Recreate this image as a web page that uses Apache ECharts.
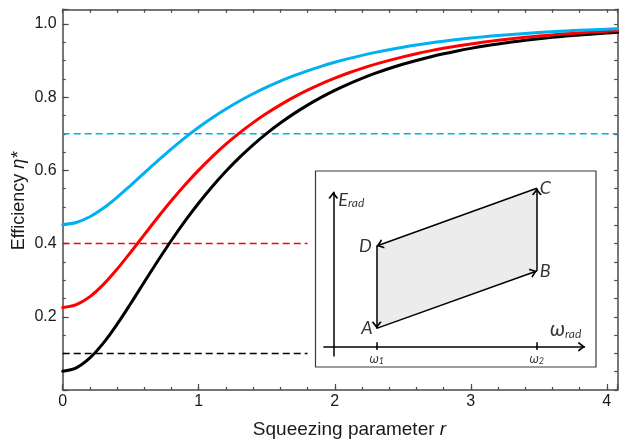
<!DOCTYPE html>
<html><head><meta charset="utf-8">
<script src="https://cdn.jsdelivr.net/npm/echarts@6/dist/echarts.min.js"></script>
<style>html,body{margin:0;padding:0;background:#fff}#c{width:621px;height:439px}</style>
</head><body><div id="c"></div>
<script>
// ---- data ----
const rValues = [0,0.1,0.2,0.3,0.4,0.5,0.6,0.7,0.8,0.9,1.0,1.1,1.2,1.3,1.4,1.5,1.6,1.7,1.8,1.9,2.0,
                 2.1,2.2,2.3,2.4,2.5,2.6,2.7,2.8,2.9,3.0,3.1,3.2,3.3,3.4,3.5,3.6,3.7,3.8,3.9,4.0,4.08];
const blackEta = [0.0513,0.0607,0.0876,0.1287,0.1797,0.2363,0.2950,0.3531,0.4091,0.4618,0.5109,0.5561,0.5976,0.6354,0.6698,0.7010,0.7293,0.7550,0.7783,0.7994,0.8185,
                  0.8357,0.8513,0.8655,0.8783,0.8899,0.9003,0.9098,0.9184,0.9262,0.9332,0.9396,0.9453,0.9505,0.9552,0.9595,0.9633,0.9668,0.9700,0.9728,0.9754,0.9773];
const redEta   = [0.2254,0.2331,0.2550,0.2886,0.3302,0.3764,0.4243,0.4718,0.5175,0.5606,0.6006,0.6376,0.6714,0.7023,0.7304,0.7559,0.7790,0.8000,0.8190,0.8362,0.8518,
                  0.8659,0.8786,0.8902,0.9006,0.9101,0.9186,0.9264,0.9334,0.9397,0.9455,0.9507,0.9553,0.9596,0.9634,0.9669,0.9701,0.9729,0.9755,0.9778,0.9799,0.9815];
const blueEta  = [0.4523,0.4577,0.4732,0.4970,0.5264,0.5591,0.5930,0.6265,0.6588,0.6893,0.7176,0.7437,0.7677,0.7895,0.8093,0.8274,0.8437,0.8586,0.8720,0.8842,0.8952,
                  0.9052,0.9142,0.9223,0.9297,0.9364,0.9425,0.9480,0.9529,0.9574,0.9614,0.9651,0.9684,0.9714,0.9741,0.9766,0.9788,0.9808,0.9827,0.9843,0.9858,0.9869];
const carnotLevels = [0.7, 0.4, 0.1];
const carnotEnds = [4.08, 1.8, 1.8];
const xTickLabels = ['0','1','2','3','4'];
const yTickLabels = ['0.2','0.4','0.6','0.8','1.0'];
// inset cycle diagram (inset units 0..1)
const cycleNames = ['A','B','C','D'];
const cycleU = [0.218,0.789,0.789,0.218];
const cycleV = [0.197,0.490,0.912,0.617];
const insetOmegaU = [0.218,0.789];

// ---- styling ----
const X_MAX = 4.08, Y_MAX = 1.04;
const AX = '#4a4a4a';
const FONT = 'Liberation Sans';
const IFONT = 'Lato';
const BLUE = '#00B0F0', RED = '#FF0000', BLACK = '#000000';
const arrowPath = 'path://M5,0L5.001,0L5,0ZM5,9L10,17.2L8.3,18L5,12.4L1.7,18L0,17.2Z';

function xFmt(v){ const k=Math.round(v); return Math.abs(v-k)<1e-6 && xTickLabels[k]!==undefined ? xTickLabels[k] : ''; }
function yFmt(v){ const k=Math.round(v/0.2); return (Math.abs(v-k*0.2)<1e-6 && k>=1 && k<=yTickLabels.length) ? yTickLabels[k-1] : ''; }

const baseX = {gridIndex:0,type:'value',min:0,max:X_MAX,splitLine:{show:false}};
const baseY = {gridIndex:0,type:'value',min:0,max:Y_MAX,splitLine:{show:false}};

const xAxis = [
  Object.assign({}, baseX, {position:'bottom', interval:1,
    axisLine:{show:true,onZero:false,lineStyle:{color:AX,width:1.5}},
    axisTick:{show:true,inside:true,length:6,lineStyle:{color:AX,width:1.2}},
    axisLabel:{show:true,margin:4,fontSize:16,color:'#1a1a1a',fontFamily:FONT,formatter:xFmt}}),
  Object.assign({}, baseX, {position:'bottom', interval:0.2,
    axisLine:{show:false,onZero:false},
    axisTick:{show:true,inside:true,length:3,lineStyle:{color:AX,width:1.2}},
    axisLabel:{show:false}}),
  Object.assign({}, baseX, {position:'top', interval:0.2,
    axisLine:{show:true,onZero:false,lineStyle:{color:AX,width:1.5}},
    axisTick:{show:true,inside:true,length:3.5,lineStyle:{color:AX,width:1.2}},
    axisLabel:{show:false}}),
  {gridIndex:1,type:'value',min:0,max:1,show:false}
];
const yAxis = [
  Object.assign({}, baseY, {position:'left', interval:0.2,
    axisLine:{show:true,onZero:false,lineStyle:{color:AX,width:1.5}},
    axisTick:{show:true,inside:true,length:6,lineStyle:{color:AX,width:1.2}},
    axisLabel:{show:true,margin:6,fontSize:16,color:'#1a1a1a',fontFamily:FONT,formatter:yFmt}}),
  Object.assign({}, baseY, {position:'left', interval:0.05,
    axisLine:{show:false,onZero:false},
    axisTick:{show:true,inside:true,length:3,lineStyle:{color:AX,width:1.2}},
    axisLabel:{show:false}}),
  Object.assign({}, baseY, {position:'right', interval:0.05,
    axisLine:{show:true,onZero:false,lineStyle:{color:AX,width:1.5}},
    axisTick:{show:true,inside:true,length:3.5,lineStyle:{color:AX,width:1.2}},
    axisLabel:{show:false}}),
  {gridIndex:1,type:'value',min:0,max:1,show:false}
];

const series = [];
const dashColors = [BLUE, RED, BLACK];
carnotLevels.forEach((lvl,i)=>{
  series.push({type:'line',xAxisIndex:0,yAxisIndex:0,data:[[0,lvl],[carnotEnds[i],lvl]],
    showSymbol:false,silent:true,lineStyle:{color:dashColors[i],width:1.5,type:[7,4]},z:2});
});
[[blackEta,BLACK],[redEta,RED],[blueEta,BLUE]].forEach(([arr,col])=>{
  series.push({type:'line',xAxisIndex:0,yAxisIndex:0,data:rValues.map((r,i)=>[r,arr[i]]),
    showSymbol:false,silent:true,smooth:0.35,lineStyle:{color:col,width:3,join:'round',cap:'round'},z:3});
});

// inset: shaded cycle
series.push({type:'custom',coordinateSystem:'cartesian2d',xAxisIndex:3,yAxisIndex:3,silent:true,z:4,
  data:[[0,0]],
  renderItem:(params,api)=>({type:'polygon',
    shape:{points:cycleU.map((u,i)=>api.coord([u,cycleV[i]]))},
    style:{fill:'#ececec',stroke:null}})
});
// inset: arrows, axes and labels
const mk = (a,b,noArrow)=>[{coord:a,symbol:'none'},{coord:b,symbol:noArrow?'none':arrowPath}];
const edges = [];
for(let i=0;i<4;i++){ const j=(i+1)%4; edges.push(mk([cycleU[i],cycleV[i]],[cycleU[j],cycleV[j]])); }
const insetAxes = [
  mk([0.0635,0.053],[0.0635,0.894]),
  mk([0.028,0.1036],[0.961,0.1036])
];
const insetTicks = insetOmegaU.map(u=>mk([u,0.087],[u,0.126],true));
const TXT = '#000';
const richI = {
  L:{fontStyle:'italic',fontSize:18,fontFamily:IFONT,color:TXT},
  E:{fontStyle:'italic',fontSize:18,fontFamily:IFONT,color:TXT,verticalAlign:'bottom',lineHeight:20},
  W:{fontStyle:'italic',fontSize:21,fontFamily:IFONT,color:TXT,verticalAlign:'bottom',lineHeight:20},
  s:{fontStyle:'italic',fontSize:12,fontFamily:IFONT,color:TXT,verticalAlign:'bottom',lineHeight:15},
  w:{fontStyle:'italic',fontSize:13,fontFamily:IFONT,color:TXT,verticalAlign:'bottom',lineHeight:13},
  t:{fontStyle:'italic',fontSize:9,fontFamily:IFONT,color:TXT,verticalAlign:'bottom',lineHeight:10}
};
const labelItems = [
  {value:[cycleU[0],cycleV[0]],label:{formatter:'{L|'+cycleNames[0]+'}',position:'left',distance:4}},
  {value:[cycleU[1],cycleV[1]],label:{formatter:'{L|'+cycleNames[1]+'}',position:'right',distance:3}},
  {value:[cycleU[2],cycleV[2]],label:{formatter:'{L|'+cycleNames[2]+'}',position:'right',distance:3}},
  {value:[cycleU[3],cycleV[3]],label:{formatter:'{L|'+cycleNames[3]+'}',position:'left',distance:5}},
  {value:[0.0635,0.857],label:{formatter:'{E|E}{s|rad}',position:'right',distance:5}},
  {value:[0.836,0.189],label:{formatter:'{W|ω}{s|rad}',position:'right',distance:0}},
  {value:[insetOmegaU[0],0.041],label:{formatter:'{w|ω}{t|1}',position:'inside'}},
  {value:[insetOmegaU[1],0.041],label:{formatter:'{w|ω}{t|2}',position:'inside'}}
];
series.push({type:'scatter',xAxisIndex:3,yAxisIndex:3,silent:true,z:6,symbolSize:0,
  data:labelItems,
  label:{show:true,rich:richI},
  markLine:{silent:true,animation:false,symbolSize:[10,14],label:{show:false},
    lineStyle:{color:'#000',width:1.5,type:'solid'},
    emphasis:{disabled:true},
    data:edges.concat(insetAxes,insetTicks)}
});

const option = {
  animation:false,
  backgroundColor:'#ffffff',
  grid:[
    {left:62.7,top:9.3,width:555,height:380.7,containLabel:false},
    {left:315.5,top:171,width:280.5,height:196,show:true,borderColor:'#3a3a3a',borderWidth:1.2,backgroundColor:'#ffffff',z:1}
  ],
  xAxis, yAxis, series,
  graphic:[
    {type:'text',x:349.5,y:430,silent:true,
      style:{text:'Squeezing parameter {i|r}',align:'center',verticalAlign:'middle',fontSize:19,fontFamily:FONT,fill:'#1a1a1a',
        rich:{i:{fontStyle:'italic',fontSize:19,fontFamily:FONT,fill:'#1a1a1a'}}}},
    {type:'text',x:19,y:201,rotation:Math.PI/2,silent:true,
      style:{text:'Efficiency {i|η*}',align:'center',verticalAlign:'middle',fontSize:18,fontFamily:FONT,fill:'#1a1a1a',
        rich:{i:{fontStyle:'italic',fontSize:18,fontFamily:FONT,fill:'#1a1a1a'}}}}
  ]
};
const chart = echarts.init(document.getElementById('c'),null,{renderer:'canvas'});
chart.setOption(option);
</script></body></html>
